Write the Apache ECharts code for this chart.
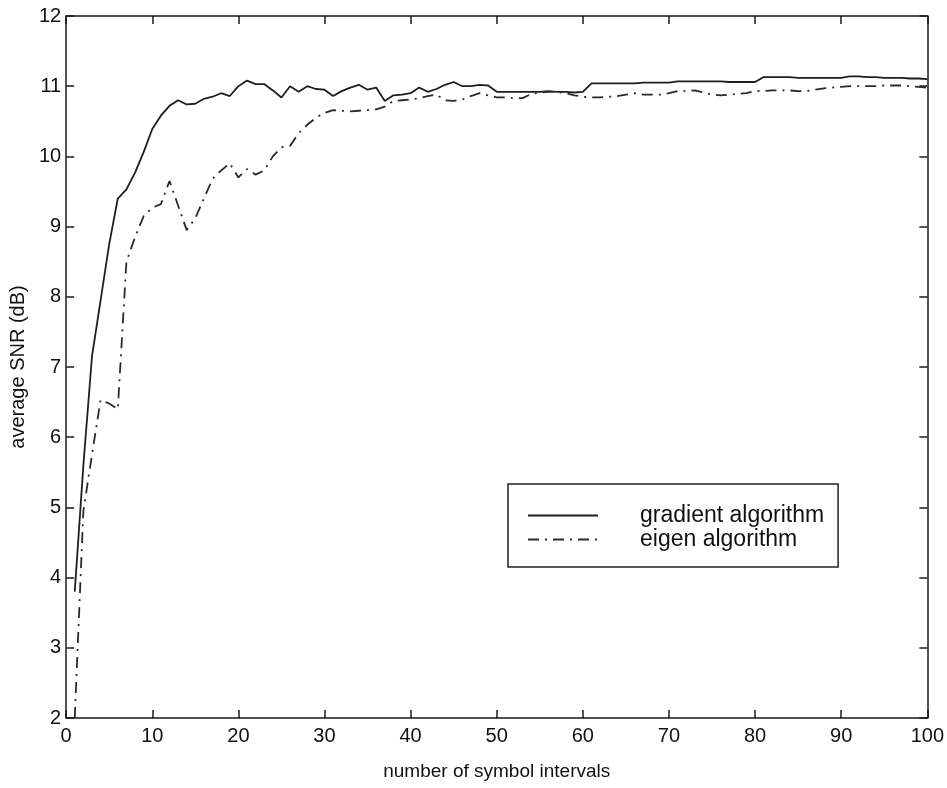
<!DOCTYPE html>
<html>
<head>
<meta charset="utf-8">
<script src="https://cdn.jsdelivr.net/npm/echarts@6/dist/echarts.min.js"></script>
<style>
html,body{margin:0;padding:0;background:#fff;}
#chart{width:947px;height:788px;}
</style>
</head>
<body>
<div id="chart"></div>
<script>
// number of symbol intervals: 1..100
var symbolIntervals = [];
for (var i = 1; i <= 100; i++) symbolIntervals.push(i);

var seriesNames = ['gradient algorithm', 'eigen algorithm'];

var gradientSNR = [
  3.8, 5.6, 7.15, 7.95, 8.75, 9.4, 9.53, 9.77, 10.06, 10.39,
  10.58, 10.72, 10.8, 10.74, 10.75, 10.82, 10.85, 10.9, 10.86, 11.0,
  11.08, 11.03, 11.03, 10.94, 10.84, 11.0, 10.92, 11.0, 10.96, 10.95,
  10.86, 10.93, 10.98, 11.02, 10.95, 10.98, 10.79, 10.87, 10.88, 10.9,
  10.98, 10.92, 10.96, 11.02, 11.06, 11.0, 11.0, 11.02, 11.01, 10.92,
  10.92, 10.92, 10.92, 10.92, 10.92, 10.93, 10.92, 10.92, 10.91, 10.92,
  11.04, 11.04, 11.04, 11.04, 11.04, 11.04, 11.05, 11.05, 11.05, 11.05,
  11.07, 11.07, 11.07, 11.07, 11.07, 11.07, 11.06, 11.06, 11.06, 11.06,
  11.13, 11.13, 11.13, 11.13, 11.12, 11.12, 11.12, 11.12, 11.12, 11.12,
  11.14, 11.14, 11.13, 11.13, 11.12, 11.12, 11.12, 11.11, 11.11, 11.1
];

var eigenSNR = [
  2.0, 4.95, 5.75, 6.53, 6.48, 6.4, 8.5, 8.85, 9.15, 9.27,
  9.32, 9.65, 9.3, 8.95, 9.12, 9.4, 9.68, 9.8, 9.9, 9.7,
  9.82, 9.74, 9.8, 10.0, 10.13, 10.15, 10.33, 10.45, 10.55, 10.62,
  10.66, 10.65, 10.64, 10.65, 10.66, 10.67, 10.71, 10.79, 10.8, 10.81,
  10.83, 10.86, 10.88, 10.8, 10.79, 10.81, 10.86, 10.9, 10.87, 10.84,
  10.84, 10.83, 10.83, 10.89, 10.91, 10.92, 10.92, 10.9, 10.87, 10.85,
  10.84, 10.84, 10.85, 10.86, 10.88, 10.9, 10.88, 10.88, 10.88, 10.9,
  10.93, 10.93, 10.94, 10.91, 10.88, 10.87, 10.88, 10.89, 10.9, 10.93,
  10.93, 10.94, 10.94, 10.94, 10.93, 10.93, 10.95, 10.97, 10.98, 10.99,
  11.0, 11.0, 11.0, 11.0, 11.01, 11.01, 11.01, 11.0, 10.99, 10.98
];

var xTicks = [0, 10, 20, 30, 40, 50, 60, 70, 80, 90, 100];
var yTicks = [2, 3, 4, 5, 6, 7, 8, 9, 10, 11, 12];

function pairs(xs, ys) {
  return xs.map(function (x, k) { return [x, ys[k]]; });
}

var FONT = 'Liberation Sans, Arial, sans-serif';
var axisCol = '#1a1a1a';

var chart = echarts.init(document.getElementById('chart'), null, {renderer: 'canvas'});
chart.setOption({
  backgroundColor: '#ffffff',
  animation: false,
  grid: {left: 58, right: 12, top: 16, bottom: 70, containLabel: false},
  legend: {
    orient: 'vertical',
    left: 508, top: 484,
    data: seriesNames,
    itemWidth: 70, itemHeight: 14,
    itemGap: 1,
    borderColor: '#222', borderWidth: 1.5,
    padding: [20, 14, 16, 19],
    itemStyle: {color: 'rgba(0,0,0,0)', borderColor: 'rgba(0,0,0,0)', borderWidth: 0, opacity: 0},
    textStyle: {fontFamily: FONT, fontSize: 23, color: '#111', padding: [0, 0, 0, 37]}
  },
  xAxis: [{
    type: 'value', min: 0, max: 100, interval: 10, position: 'bottom',
    name: 'number of symbol intervals', nameLocation: 'middle', nameGap: 44,
    nameTextStyle: {fontFamily: FONT, fontSize: 19, color: '#111'},
    axisLine: {onZero: false, lineStyle: {color: axisCol, width: 1.5}},
    axisTick: {inside: true, length: 8, lineStyle: {color: axisCol, width: 1.5}},
    axisLabel: {fontFamily: FONT, fontSize: 20, color: '#111', margin: 8,
      formatter: function (v) { return xTicks.indexOf(v) >= 0 ? String(v) : ''; }},
    splitLine: {show: false}
  }, {
    type: 'value', min: 0, max: 100, interval: 10, position: 'top',
    axisLine: {onZero: false, lineStyle: {color: axisCol, width: 1.5}},
    axisTick: {inside: true, length: 8, lineStyle: {color: axisCol, width: 1.5}},
    axisLabel: {show: false}, splitLine: {show: false}
  }],
  yAxis: [{
    type: 'value', min: 2, max: 12, interval: 1, position: 'left',
    name: 'average SNR (dB)', nameLocation: 'middle', nameGap: 38, nameRotate: 90,
    nameTextStyle: {fontFamily: FONT, fontSize: 20, color: '#111'},
    axisLine: {onZero: false, lineStyle: {color: axisCol, width: 1.5}},
    axisTick: {inside: true, length: 8, lineStyle: {color: axisCol, width: 1.5}},
    axisLabel: {fontFamily: FONT, fontSize: 20, color: '#111', margin: 5,
      formatter: function (v) { return yTicks.indexOf(v) >= 0 ? String(v) : ''; }},
    splitLine: {show: false}
  }, {
    type: 'value', min: 2, max: 12, interval: 1, position: 'right',
    axisLine: {onZero: false, lineStyle: {color: axisCol, width: 1.5}},
    axisTick: {inside: true, length: 8, lineStyle: {color: axisCol, width: 1.5}},
    axisLabel: {show: false}, splitLine: {show: false}
  }],
  series: [{
    name: seriesNames[0], type: 'line', xAxisIndex: 0, yAxisIndex: 0,
    data: pairs(symbolIntervals, gradientSNR),
    symbol: 'none', showSymbol: false,
    lineStyle: {color: '#1e1e1e', width: 1.8, type: 'solid'},
    itemStyle: {color: '#1e1e1e'}
  }, {
    name: seriesNames[1], type: 'line', xAxisIndex: 0, yAxisIndex: 0,
    data: pairs(symbolIntervals, eigenSNR),
    symbol: 'none', showSymbol: false,
    lineStyle: {color: '#2a2a2a', width: 1.8, type: [11, 6, 2, 6]},
    itemStyle: {color: '#2a2a2a'}
  }]
});
</script>
</body>
</html>
